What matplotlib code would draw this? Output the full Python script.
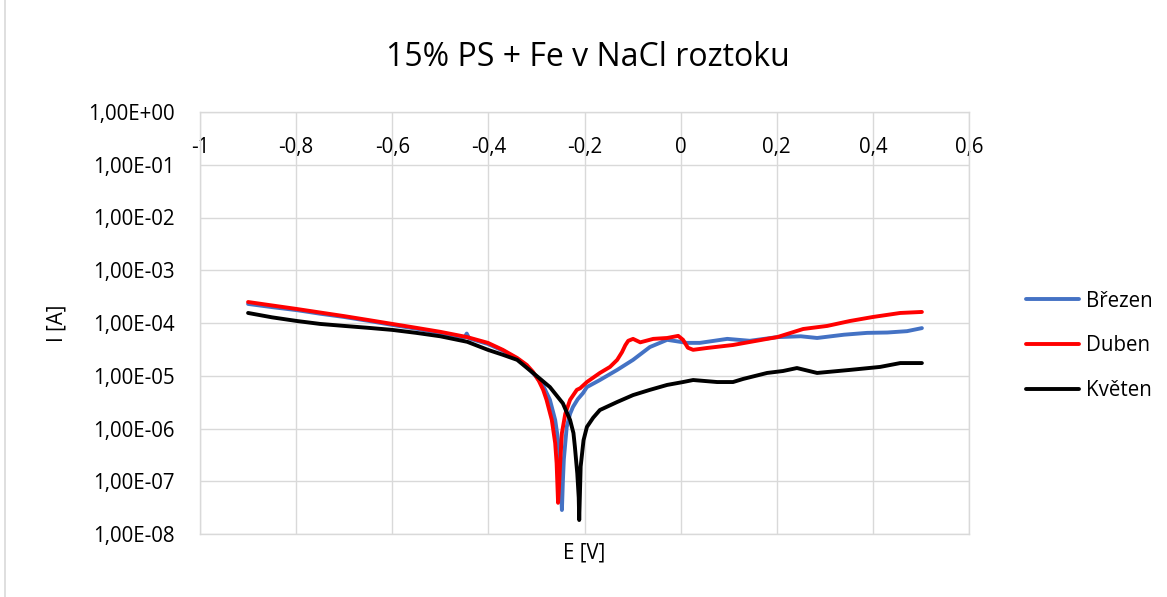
import numpy as np
import matplotlib
matplotlib.use('Agg')
import matplotlib.pyplot as plt
from matplotlib.ticker import FixedLocator, FuncFormatter, NullLocator
from matplotlib.patches import Rectangle

plt.rcParams['font.family'] = ['Open Sans', 'DejaVu Sans']

title = '15% PS + Fe v NaCl roztoku'
labels = ['Březen', 'Duben', 'Květen']
colors = ['#4472C4', '#FF0000', '#000000']

# Brezen
brezen_E = [-0.900, -0.850, -0.798, -0.750, -0.700, -0.650, -0.600, -0.550, -0.500, -0.450,
            -0.445, -0.440, -0.401, -0.370, -0.340, -0.320, -0.300, -0.286, -0.272, -0.261,
            -0.254, -0.251, -0.249, -0.247, -0.245, -0.243, -0.237, -0.230, -0.224, -0.214,
            -0.203, -0.195, -0.168, -0.132, -0.099, -0.064, -0.028, -0.001, 0.013, 0.040,
            0.070, 0.097, 0.144, 0.201, 0.250, 0.284, 0.340, 0.388, 0.430, 0.471, 0.502]
brezen_I = [2.3e-4, 2.0e-4, 1.75e-4, 1.5e-4, 1.3e-4, 1.1e-4, 9.2e-5, 7.8e-5, 6.4e-5, 5.3e-5,
            6.3e-5, 5.1e-5, 4.0e-5, 3.0e-5, 2.1e-5, 1.5e-5, 9.5e-6, 6.5e-6, 3.5e-6, 1.45e-6,
            5.3e-7, 2.2e-7, 8e-8, 2.85e-8, 1.0e-7, 2.6e-7, 1.07e-6, 1.9e-6, 2.56e-6, 3.6e-6,
            4.7e-6, 6.1e-6, 8.3e-6, 1.29e-5, 2.0e-5, 3.5e-5, 4.8e-5, 4.4e-5, 4.2e-5, 4.2e-5,
            4.6e-5, 5.0e-5, 4.6e-5, 5.4e-5, 5.6e-5, 5.2e-5, 6.0e-5, 6.5e-5, 6.6e-5, 7.0e-5, 8.0e-5]

# Duben
duben_E = [-0.900, -0.850, -0.798, -0.750, -0.700, -0.650, -0.600, -0.550, -0.500, -0.444,
           -0.401, -0.370, -0.340, -0.320, -0.307, -0.295, -0.286, -0.279, -0.268, -0.261,
           -0.258, -0.255, -0.253, -0.251, -0.247, -0.240, -0.230, -0.216, -0.209, -0.195,
           -0.168, -0.147, -0.132, -0.122, -0.115, -0.109, -0.099, -0.084, -0.057, -0.028,
           -0.005, 0.005, 0.015, 0.026, 0.055, 0.109, 0.180, 0.201, 0.255, 0.305, 0.352,
           0.400, 0.457, 0.502]
duben_I = [2.5e-4, 2.15e-4, 1.84e-4, 1.58e-4, 1.35e-4, 1.14e-4, 9.6e-5, 8.1e-5, 6.8e-5, 5.4e-5,
           4.2e-5, 3.1e-5, 2.17e-5, 1.6e-5, 1.18e-5, 8.0e-6, 5.4e-6, 3.5e-6, 1.45e-6, 5.3e-7,
           2.2e-7, 3.9e-8, 8e-8, 1.9e-7, 8.2e-7, 1.9e-6, 3.5e-6, 5.4e-6, 5.8e-6, 7.6e-6,
           1.13e-5, 1.47e-5, 2.0e-5, 2.8e-5, 3.8e-5, 4.6e-5, 5.0e-5, 4.3e-5, 5.0e-5, 5.2e-5,
           5.7e-5, 4.8e-5, 3.4e-5, 3.1e-5, 3.36e-5, 3.83e-5, 5.0e-5, 5.4e-5, 7.7e-5, 8.8e-5, 1.09e-4,
           1.30e-4, 1.55e-4, 1.62e-4]

# Kveten
kveten_E = [-0.900, -0.850, -0.798, -0.750, -0.700, -0.650, -0.600, -0.550, -0.500, -0.444,
            -0.401, -0.370, -0.340, -0.307, -0.272, -0.245, -0.230, -0.223, -0.220, -0.215,
            -0.212, -0.211, -0.208, -0.202, -0.195, -0.182, -0.168, -0.132, -0.099, -0.064,
            -0.028, 0.005, 0.026, 0.076, 0.109, 0.130, 0.180, 0.213, 0.242, 0.284, 0.352,
            0.415, 0.457, 0.502]
kveten_I = [1.55e-4, 1.28e-4, 1.09e-4, 9.6e-5, 8.8e-5, 8.1e-5, 7.4e-5, 6.5e-5, 5.6e-5, 4.4e-5,
            3.1e-5, 2.5e-5, 2.0e-5, 1.13e-5, 6.1e-6, 3.0e-6, 1.45e-6, 8.2e-7, 4.5e-7, 1.4e-7,
            4.9e-8, 1.84e-8, 1.9e-7, 6.0e-7, 1.07e-6, 1.6e-6, 2.24e-6, 3.18e-6, 4.3e-6, 5.4e-6,
            6.7e-6, 7.6e-6, 8.3e-6, 7.6e-6, 7.6e-6, 8.7e-6, 1.13e-5, 1.23e-5, 1.4e-5, 1.13e-5, 1.29e-5,
            1.47e-5, 1.74e-5, 1.74e-5]

x_ticks = [-1, -0.8, -0.6, -0.4, -0.2, 0, 0.2, 0.4, 0.6]
y_ticks = [1e-8, 1e-7, 1e-6, 1e-5, 1e-4, 1e-3, 1e-2, 1e-1, 1e0]

W, H = 1167, 597
fig = plt.figure(figsize=(W / 100, H / 100), dpi=100)
ax = fig.add_axes([200 / W, 1 - 534 / H, (969 - 200) / W, (534 - 112) / H])

series = [(brezen_E, brezen_I), (duben_E, duben_I), (kveten_E, kveten_I)]
for (e, i), lab, c in zip(series, labels, colors):
    ax.plot(e, i, color=c, lw=2.8, label=lab, solid_capstyle='round', solid_joinstyle='round')

ax.set_yscale('log')
ax.set_xlim(-1, 0.6)
ax.set_ylim(1e-8, 1e0)
ax.xaxis.set_major_locator(FixedLocator(x_ticks))
ax.yaxis.set_major_locator(FixedLocator(y_ticks))
ax.yaxis.set_minor_locator(NullLocator())


def xfmt(v, pos):
    if abs(v) < 1e-9:
        return '0'
    return f'{v:g}'.replace('.', ',')


ax.xaxis.set_major_formatter(FuncFormatter(xfmt))
ax.yaxis.set_major_formatter(FuncFormatter(lambda v, pos: f'{v:.2E}'.replace('.', ',')))

ax.grid(True, color='#D9D9D9', lw=1.0)
ax.set_axisbelow(True)
for s in ax.spines.values():
    s.set_color('#D9D9D9')
    s.set_linewidth(1.0)

fs = 14.8
ax.tick_params(axis='y', length=0, pad=18, labelsize=fs)
ax.tick_params(axis='x', length=0, top=False, bottom=False, labeltop=True, labelbottom=False,
               pad=-33, labelsize=fs)

ax.set_xlabel('E [V]', fontsize=fs)
ax.xaxis.set_label_coords(0.5, -0.02)
ax.xaxis.label.set_va('top')
ax.set_ylabel('I [A]', fontsize=fs)
ax.yaxis.set_label_coords((68 - 200) / (969 - 200), 0.5)

fig.text(588 / W, 1 - 57 / H, title, fontsize=23, ha='center', va='center')

leg = ax.legend(loc='upper left', bbox_to_anchor=(1007 / W, 1 - 272 / H), bbox_transform=fig.transFigure,
                frameon=False, fontsize=fs, handlelength=2.6, handletextpad=0.35, labelspacing=1.15)

fig.patches.append(Rectangle((5 / W, -0.2), 1.5, 1.2 + (1 - 13 / H), transform=fig.transFigure,
                             fill=False, edgecolor='#D9D9D9', lw=1.2))

fig.savefig('out.png', dpi=100)
